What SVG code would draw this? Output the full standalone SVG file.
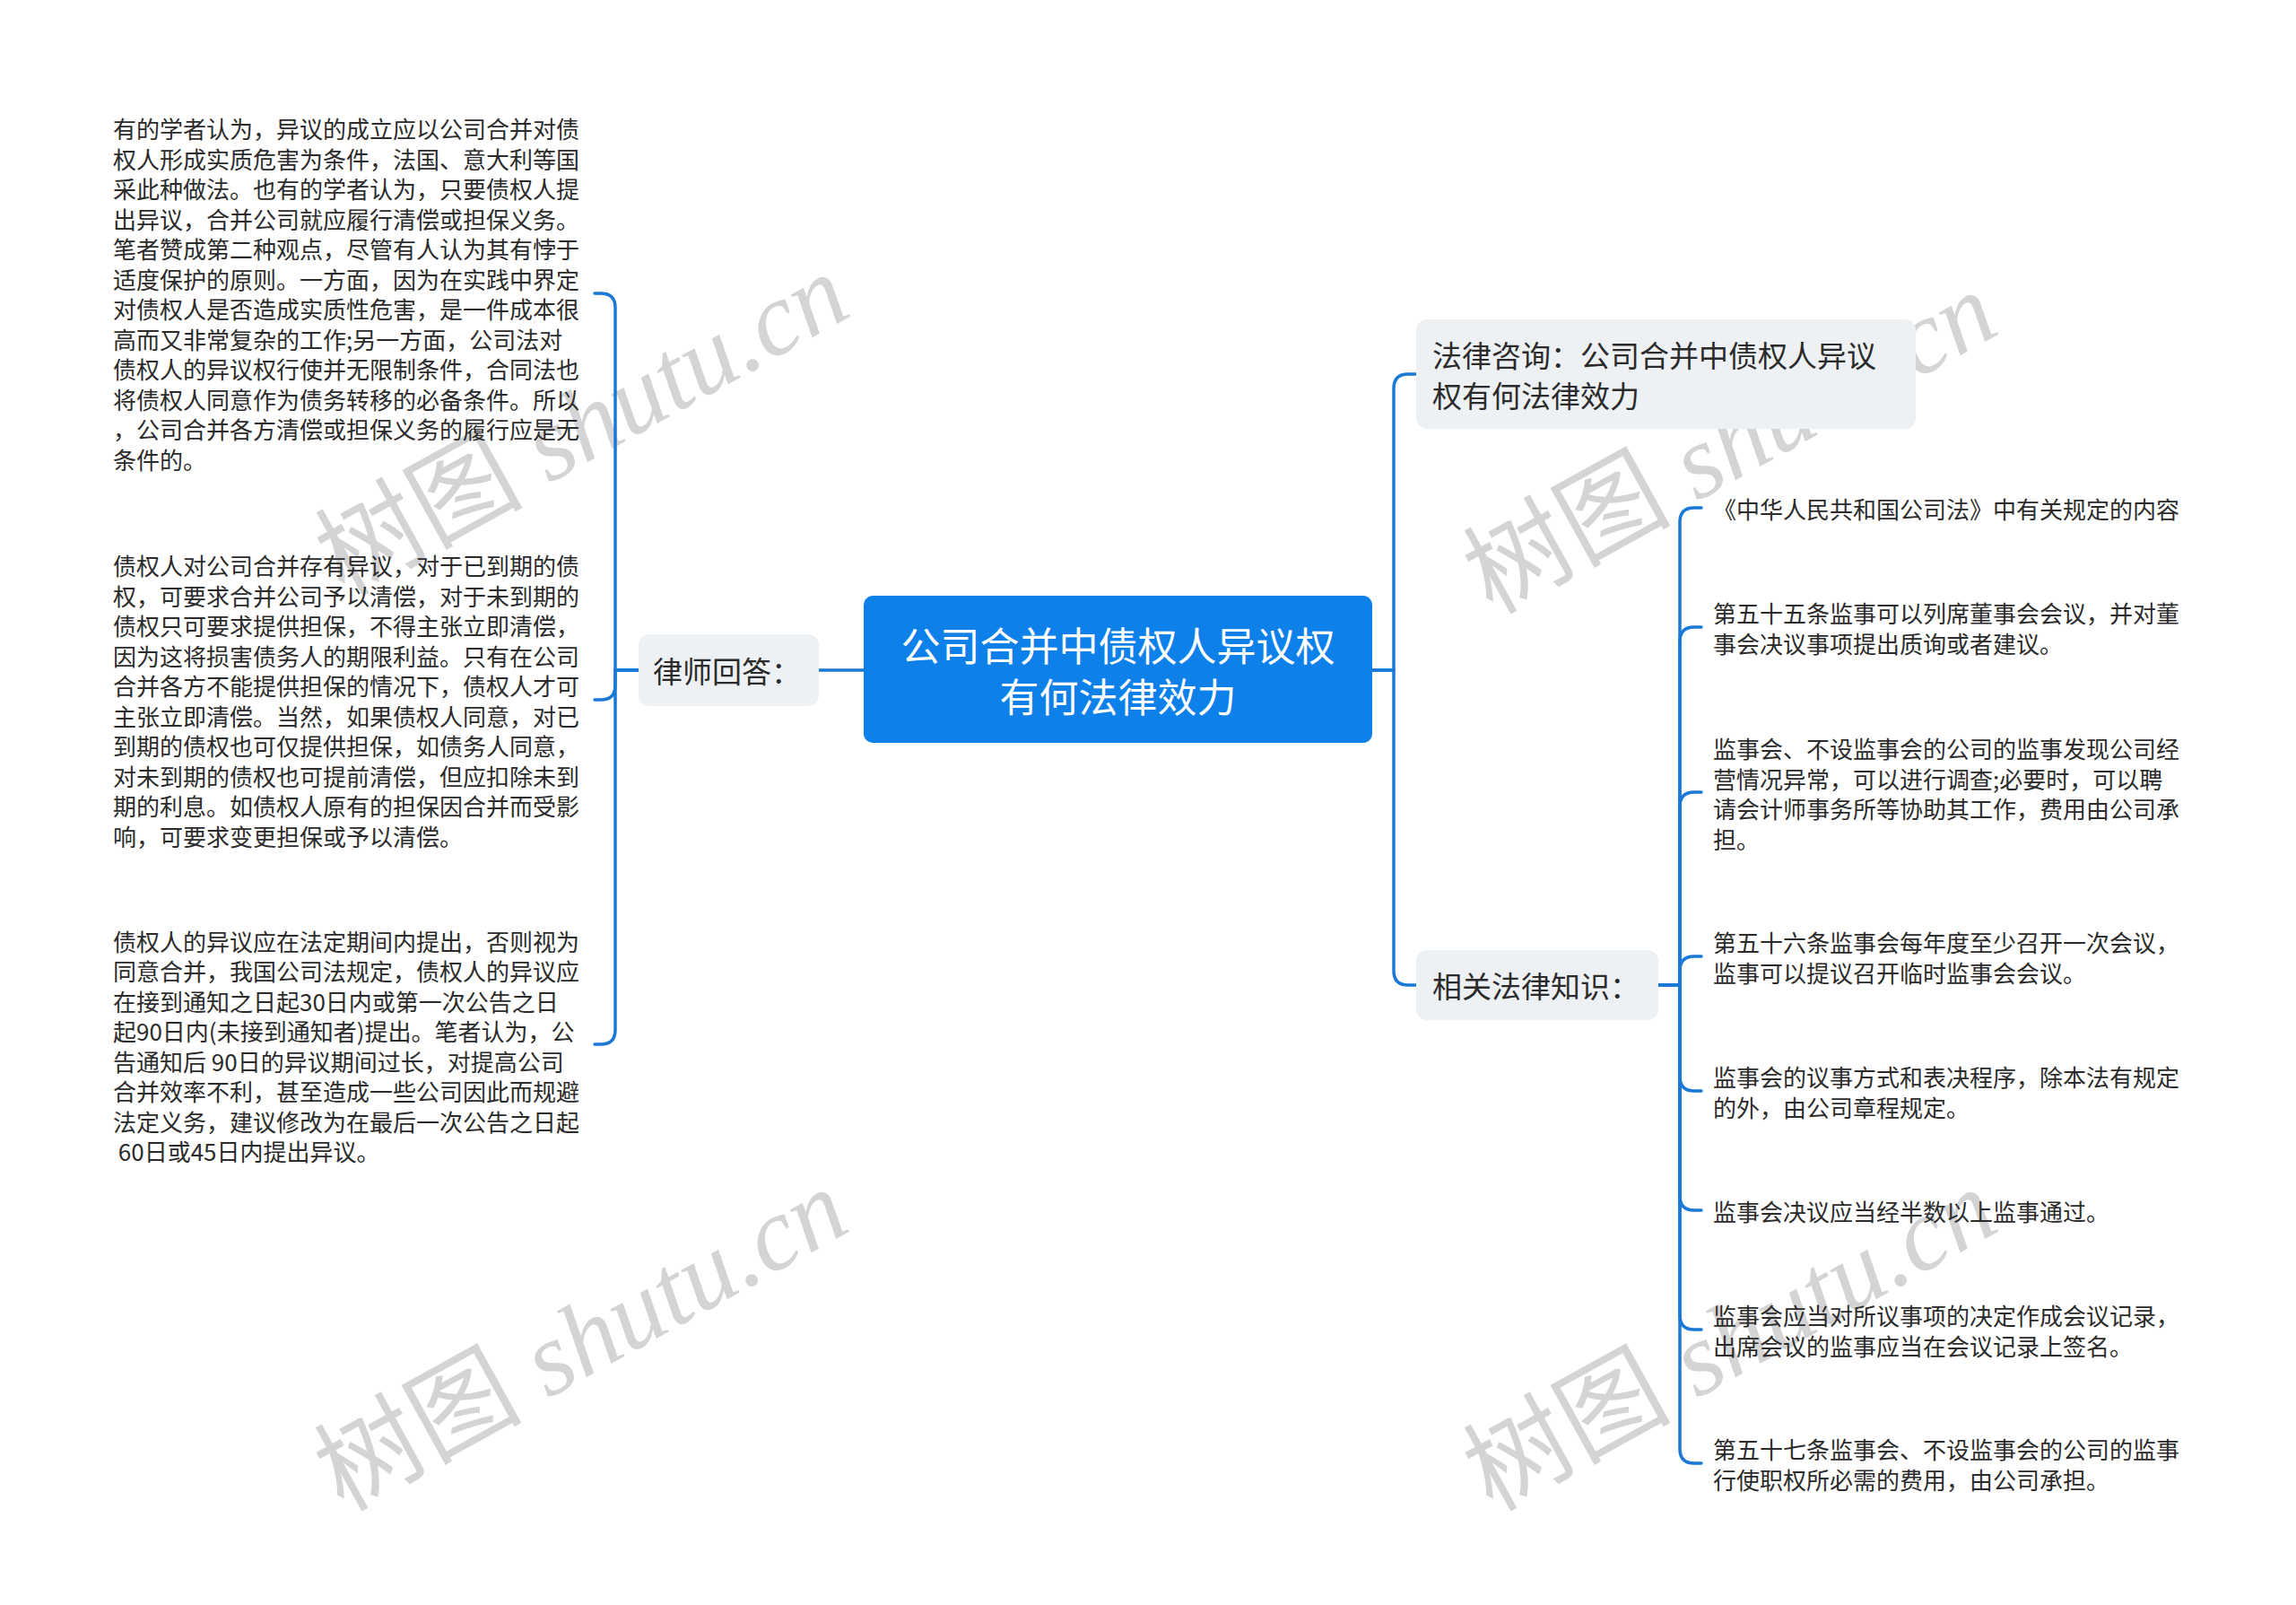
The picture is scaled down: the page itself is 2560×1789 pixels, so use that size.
<svg xmlns="http://www.w3.org/2000/svg" width="2560" height="1789" viewBox="0 0 2560 1789">
<style>
.bg{fill:#ffffff}
.wm{font-family:"Liberation Serif","Noto Sans CJK SC",serif;font-size:116px;font-style:italic;fill:#d4d4d4}
.wmc{font-family:"Noto Sans CJK SC",sans-serif;font-style:normal}
.link{fill:none;stroke:#1a78d6;stroke-width:3.5;stroke-linecap:round;stroke-linejoin:round}
.root rect{fill:#0d80e9}
.root text{font-family:"Noto Sans CJK SC","Noto Sans",sans-serif;font-size:44px;fill:#ffffff;text-anchor:middle;dominant-baseline:central}
.sub rect{fill:#eef1f4}
.sub text{font-family:"Noto Sans CJK SC","Noto Sans",sans-serif;font-size:33px;fill:#2b2b2b;dominant-baseline:central}
.leaf text{font-family:"Noto Sans CJK SC","Noto Sans",sans-serif;font-size:26px;fill:#2b2b2b;dominant-baseline:central}
</style>
<rect class="bg" x="0" y="0" width="2560" height="1789"/>
<g id="watermarks">
<text class="wm" transform="translate(668,508) rotate(-29)" text-anchor="middle"><tspan class="wmc">树图</tspan> shutu.cn</text>
<text class="wm" transform="translate(1948,528) rotate(-29)" text-anchor="middle"><tspan class="wmc">树图</tspan> shutu.cn</text>
<text class="wm" transform="translate(667,1528) rotate(-29)" text-anchor="middle"><tspan class="wmc">树图</tspan> shutu.cn</text>
<text class="wm" transform="translate(1948,1528) rotate(-29)" text-anchor="middle"><tspan class="wmc">树图</tspan> shutu.cn</text>
</g>
<g id="connectors">
<path class="link" d="M963,747 H913"/>
<path class="link" d="M712,747 H686 V343 Q686,327 670,327 H663"/>
<path class="link" d="M712,747 H686 V764 Q686,780 670,780 H663"/>
<path class="link" d="M712,747 H686 V1148 Q686,1164 670,1164 H663"/>
<path class="link" d="M1530,747 H1554 V433 Q1554,417 1570,417 H1579"/>
<path class="link" d="M1530,747 H1554 V1082 Q1554,1098 1570,1098 H1579"/>
<path class="link" d="M1848,1098 H1873 V582 Q1873,566 1889,566 H1897"/>
<path class="link" d="M1848,1098 H1873 V715 Q1873,699 1889,699 H1897"/>
<path class="link" d="M1848,1098 H1873 V899 Q1873,883 1889,883 H1897"/>
<path class="link" d="M1848,1098 H1873 V1082 Q1873,1066 1889,1066 H1897"/>
<path class="link" d="M1848,1098 H1873 V1200 Q1873,1216 1889,1216 H1897"/>
<path class="link" d="M1848,1098 H1873 V1333 Q1873,1349 1889,1349 H1897"/>
<path class="link" d="M1848,1098 H1873 V1466 Q1873,1482 1889,1482 H1897"/>
<path class="link" d="M1848,1098 H1873 V1615 Q1873,1631 1889,1631 H1897"/>
</g>
<g id="root" class="root">
<rect x="963" y="664" width="567" height="164" rx="10"/>
<text x="1246.5" y="717.5"><tspan x="1246.5" y="717.5">公司合并中债权人异议权</tspan><tspan x="1246.5" y="774.5">有何法律效力</tspan></text>
</g>
<g id="n-lawyer" class="sub">
<rect x="712" y="707" width="201" height="80" rx="12"/>
<text x="728" y="747">律师回答：</text>
</g>
<g id="n-consult" class="sub">
<rect x="1579" y="356" width="557" height="122" rx="12"/>
<text x="1597" y="395"><tspan x="1597" y="395">法律咨询：公司合并中债权人异议</tspan><tspan x="1597" y="440">权有何法律效力</tspan></text>
</g>
<g id="n-related" class="sub">
<rect x="1579" y="1059" width="270" height="78" rx="12"/>
<text x="1597" y="1098">相关法律知识：</text>
</g>
<g id="leaf-a" class="leaf">
<text x="126" y="142"><tspan x="126" y="142">有的学者认为，异议的成立应以公司合并对债</tspan><tspan x="126" y="175.5">权人形成实质危害为条件，法国、意大利等国</tspan><tspan x="126" y="209">采此种做法。也有的学者认为，只要债权人提</tspan><tspan x="126" y="242.5">出异议，合并公司就应履行清偿或担保义务。</tspan><tspan x="126" y="276">笔者赞成第二种观点，尽管有人认为其有悖于</tspan><tspan x="126" y="309.5">适度保护的原则。一方面，因为在实践中界定</tspan><tspan x="126" y="343">对债权人是否造成实质性危害，是一件成本很</tspan><tspan x="126" y="376.5">高而又非常复杂的工作;另一方面，公司法对</tspan><tspan x="126" y="410">债权人的异议权行使并无限制条件，合同法也</tspan><tspan x="126" y="443.5">将债权人同意作为债务转移的必备条件。所以</tspan><tspan x="126" y="477">，公司合并各方清偿或担保义务的履行应是无</tspan><tspan x="126" y="510.5">条件的。</tspan></text>
</g>
<g id="leaf-b" class="leaf">
<text x="126" y="629"><tspan x="126" y="629">债权人对公司合并存有异议，对于已到期的债</tspan><tspan x="126" y="662.5">权，可要求合并公司予以清偿，对于未到期的</tspan><tspan x="126" y="696">债权只可要求提供担保，不得主张立即清偿，</tspan><tspan x="126" y="729.5">因为这将损害债务人的期限利益。只有在公司</tspan><tspan x="126" y="763">合并各方不能提供担保的情况下，债权人才可</tspan><tspan x="126" y="796.5">主张立即清偿。当然，如果债权人同意，对已</tspan><tspan x="126" y="830">到期的债权也可仅提供担保，如债务人同意，</tspan><tspan x="126" y="863.5">对未到期的债权也可提前清偿，但应扣除未到</tspan><tspan x="126" y="897">期的利息。如债权人原有的担保因合并而受影</tspan><tspan x="126" y="930.5">响，可要求变更担保或予以清偿。</tspan></text>
</g>
<g id="leaf-c" class="leaf">
<text x="126" y="1047.5" xml:space="preserve"><tspan x="126" y="1047.5">债权人的异议应在法定期间内提出，否则视为</tspan><tspan x="126" y="1081">同意合并，我国公司法规定，债权人的异议应</tspan><tspan x="126" y="1114.5">在接到通知之日起30日内或第一次公告之日</tspan><tspan x="126" y="1148">起90日内(未接到通知者)提出。笔者认为，公</tspan><tspan x="126" y="1181.5">告通知后 90日的异议期间过长，对提高公司</tspan><tspan x="126" y="1215">合并效率不利，甚至造成一些公司因此而规避</tspan><tspan x="126" y="1248.5">法定义务，建议修改为在最后一次公告之日起</tspan><tspan x="126" y="1282"> 60日或45日内提出异议。</tspan></text>
</g>
<g id="leaf-1" class="leaf">
<text x="1910" y="566">《中华人民共和国公司法》中有关规定的内容</text>
</g>
<g id="leaf-2" class="leaf">
<text x="1910" y="682"><tspan x="1910" y="682">第五十五条监事可以列席董事会会议，并对董</tspan><tspan x="1910" y="715.5">事会决议事项提出质询或者建议。</tspan></text>
</g>
<g id="leaf-3" class="leaf">
<text x="1910" y="833"><tspan x="1910" y="833">监事会、不设监事会的公司的监事发现公司经</tspan><tspan x="1910" y="866.5">营情况异常，可以进行调查;必要时，可以聘</tspan><tspan x="1910" y="900">请会计师事务所等协助其工作，费用由公司承</tspan><tspan x="1910" y="933.5">担。</tspan></text>
</g>
<g id="leaf-4" class="leaf">
<text x="1910" y="1049"><tspan x="1910" y="1049">第五十六条监事会每年度至少召开一次会议，</tspan><tspan x="1910" y="1082.5">监事可以提议召开临时监事会会议。</tspan></text>
</g>
<g id="leaf-5" class="leaf">
<text x="1910" y="1199"><tspan x="1910" y="1199">监事会的议事方式和表决程序，除本法有规定</tspan><tspan x="1910" y="1232.5">的外，由公司章程规定。</tspan></text>
</g>
<g id="leaf-6" class="leaf">
<text x="1910" y="1349">监事会决议应当经半数以上监事通过。</text>
</g>
<g id="leaf-7" class="leaf">
<text x="1910" y="1465"><tspan x="1910" y="1465">监事会应当对所议事项的决定作成会议记录，</tspan><tspan x="1910" y="1498.5">出席会议的监事应当在会议记录上签名。</tspan></text>
</g>
<g id="leaf-8" class="leaf">
<text x="1910" y="1614"><tspan x="1910" y="1614">第五十七条监事会、不设监事会的公司的监事</tspan><tspan x="1910" y="1647.5">行使职权所必需的费用，由公司承担。</tspan></text>
</g>
</svg>
